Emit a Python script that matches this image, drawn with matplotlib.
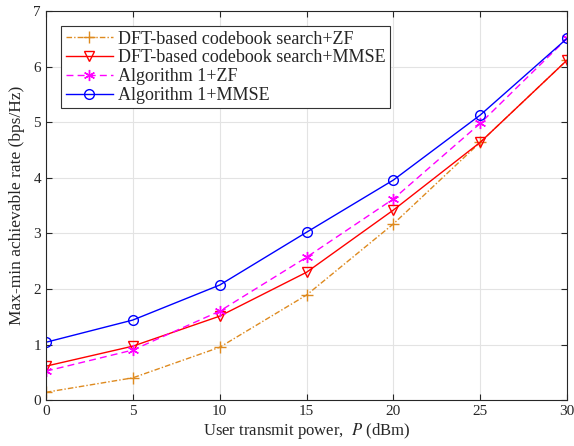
import matplotlib
matplotlib.use("Agg")
import matplotlib.pyplot as plt

power = [0, 5, 10, 15, 20, 25, 30]
dft_zf = [0.14, 0.40, 0.95, 1.89, 3.17, 4.64, 6.12]
dft_mmse = [0.61, 0.97, 1.51, 2.30, 3.42, 4.64, 6.12]
alg_zf = [0.52, 0.90, 1.60, 2.57, 3.62, 4.98, 6.51]
alg_mmse = [1.04, 1.44, 2.07, 3.02, 3.96, 5.13, 6.51]

plt.rcParams["font.family"] = ["Liberation Serif", "DejaVu Serif"]
plt.rcParams["mathtext.fontset"] = "stix"
DARK = "#262626"

fig = plt.figure(figsize=(5.74, 4.46), dpi=100)
ax = fig.add_axes([0.080, 0.103, 0.908, 0.872])

ax.plot(power, dft_zf, color="#de8a1f", marker="+", ms=8, mew=1.0, lw=1.0,
        dashes=(4, 1.5, 1, 1.5), label="DFT-based codebook search+ZF")
ax.plot(power, dft_mmse, "-", color="#ff0000", marker="v", ms=7.5, mfc="none", mew=1.0, lw=1.0,
        label="DFT-based codebook search+MMSE")
ax.plot(power, alg_zf, color="#ff00ff", marker=(6, 2, 0), ms=8, mew=1.0, lw=1.0,
        dashes=(5, 3), label="Algorithm 1+ZF")
ax.plot(power, alg_mmse, "-", color="#0000ff", marker="o", ms=7, mfc="none", mew=1.0, lw=1.0,
        label="Algorithm 1+MMSE")

ax.set_xlim(0, 30)
ax.set_ylim(0, 7)
ax.set_xticks(power)
ax.set_yticks(range(8))
ax.grid(True, color="#e3e3e3", lw=0.8)
ax.set_axisbelow(True)
ax.tick_params(direction="in", labelsize=11, top=True, right=True, length=4,
               colors=DARK)
for s in ax.spines.values():
    s.set_linewidth(0.8)
    s.set_color(DARK)
ax.set_xlabel("User transmit power,  $P$ (dBm)", fontsize=12, labelpad=2, color=DARK)
ax.set_ylabel("Max-min achievable rate (bps/Hz)", fontsize=12.5, labelpad=6, color=DARK)

leg = ax.legend(loc="upper left", bbox_to_anchor=(0.012, 0.985), fontsize=13,
                fancybox=False, edgecolor="#333333", framealpha=1,
                handlelength=2.6, borderpad=0.25, labelspacing=0.1, handletextpad=0.3)
leg.get_frame().set_linewidth(0.8)
for t in leg.get_texts():
    t.set_color(DARK)

fig.savefig("out.png", dpi=100)
